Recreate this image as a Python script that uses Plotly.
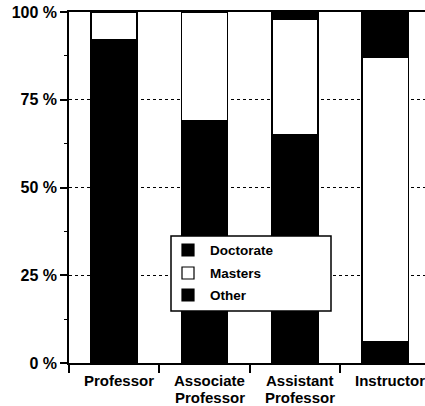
import plotly.graph_objects as go

# Highest degree held, by faculty rank (percent of each rank)
categories = ["Professor", "Associate Professor", "Assistant Professor", "Instructor"]
label_line1 = ["Professor", "Associate", "Assistant", "Instructor"]
label_line2 = ["", "Professor", "Professor", ""]

doctorate = [92, 69, 65, 6]
masters = [8, 31, 33, 81]
other = [0, 0, 2, 13]

series_names = ["Doctorate", "Masters", "Other"]
series_values = [doctorate, masters, other]
series_colors = ["black", "white", "black"]

y_tickvals = [0, 25, 50, 75, 100]
y_ticktext = ["0 %", "25 %", "50 %", "75 %", "100 %"]

FONT = "Liberation Sans, Arial, Helvetica, sans-serif"
W, H = 425, 406
PLOT_L, PLOT_R, PLOT_T, PLOT_B = 69, 425, 12, 363


def px_x(px):
    return (px - PLOT_L) / (PLOT_R - PLOT_L)


def px_y(py):
    return (PLOT_B - py) / (PLOT_B - PLOT_T)


def bold(s):
    return f"<b>{s}</b>"


fig = go.Figure()
for name, vals, color in zip(series_names, series_values, series_colors):
    fig.add_trace(go.Bar(
        x=categories, y=vals, name=name, width=0.51,
        marker=dict(color=color, line=dict(color="black", width=1.5)),
        showlegend=False,
    ))

annotations = []
# category labels, two tightly spaced lines
label_font = dict(family=FONT, size=15, color="black")
for cat, l1, l2 in zip(categories, label_line1, label_line2):
    annotations.append(dict(x=cat, xref="x", y=px_y(380.5), yref="paper",
                            text=bold(l1), showarrow=False, xanchor="center",
                            yanchor="middle", xshift=5, borderpad=0,
                            font=label_font))
    if l2:
        annotations.append(dict(x=cat, xref="x", y=px_y(397.5), yref="paper",
                                text=bold(l2), showarrow=False, xanchor="center",
                                yanchor="middle", xshift=5, borderpad=0,
                                font=label_font))

# legend box
shapes = [dict(type="rect", xref="paper", yref="paper",
               x0=px_x(171), x1=px_x(331), y0=px_y(311), y1=px_y(236),
               line=dict(color="black", width=1.5), fillcolor="white",
               layer="above")]
rows = [250, 273, 295]
for name, color, ry in zip(series_names, series_colors, rows):
    shapes.append(dict(type="rect", xref="paper", yref="paper",
                       x0=px_x(182), x1=px_x(194), y0=px_y(ry + 6), y1=px_y(ry - 6),
                       line=dict(color="black", width=1.2), fillcolor=color,
                       layer="above"))
    annotations.append(dict(x=px_x(209), xref="paper", y=px_y(ry), yref="paper",
                            text=bold(name), showarrow=False, xanchor="left",
                            yanchor="middle", borderpad=0,
                            font=dict(family=FONT, size=13.5, color="black")))

fig.update_layout(
    width=W, height=H,
    margin=dict(l=PLOT_L, r=W - PLOT_R, t=PLOT_T, b=H - PLOT_B, pad=0),
    paper_bgcolor="white", plot_bgcolor="white",
    barmode="stack", bargap=0.49,
    showlegend=False,
    shapes=shapes,
    annotations=annotations,
    font=dict(family=FONT, color="black"),
    xaxis=dict(
        type="category", categoryorder="array", categoryarray=categories,
        range=[-0.5, 3.44], showgrid=False, zeroline=False,
        showline=True, linecolor="black", linewidth=2, mirror=True,
        ticks="outside", tickson="boundaries", ticklen=8, tickwidth=1.5,
        tickcolor="black", showticklabels=False,
    ),
    yaxis=dict(
        range=[0, 100], tickvals=y_tickvals,
        ticktext=[bold(t) for t in y_ticktext],
        showgrid=True, gridcolor="black", gridwidth=1, griddash="dot",
        zeroline=False, showline=True, linecolor="black", linewidth=1.5,
        ticks="outside", ticklen=7, tickwidth=1.5, tickcolor="black",
        tickfont=dict(family=FONT, size=16, color="black"),
        minor=dict(dtick=12.5, tick0=0, ticks="outside", ticklen=3,
                   tickwidth=1.2, tickcolor="black", showgrid=False),
    ),
)

fig.write_html("out.html")
